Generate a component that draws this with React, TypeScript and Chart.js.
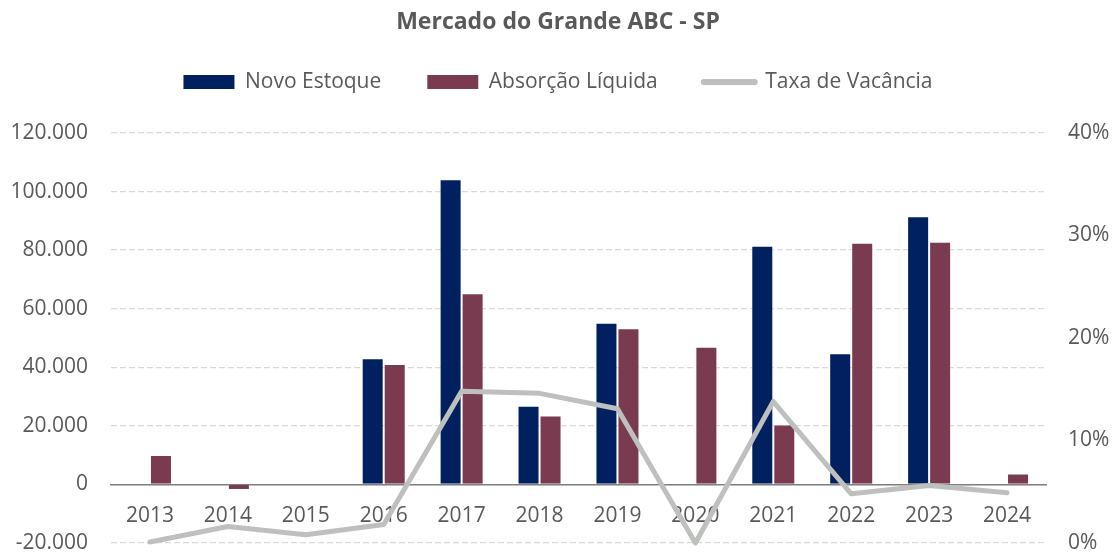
import React, { useEffect, useRef } from "react";
import { Chart, registerables } from "chart.js";

Chart.register(...registerables);

const years = ["2013", "2014", "2015", "2016", "2017", "2018", "2019", "2020", "2021", "2022", "2023", "2024"];
const novoEstoque = [null, null, null, 43100, 104200, 26900, 55200, null, 81500, 44800, 91600, null];
const absorcaoLiquida = [10000, -1900, null, 41100, 65300, 23500, 53300, 47000, 20500, 82500, 82900, 3700];
const taxaVacancia = [0.1, 1.6, 0.8, 1.8, 14.8, 14.6, 13.1, 0.0, 13.8, 4.8, 5.6, 4.9];

const TITLE = "Mercado do Grande ABC - SP";
const NAVY = "#012060";
const MAROON = "#7A3A50";
const GRAY_LINE = "#BEC0BE";
const TEXT = "#595959";
const FONT = "'Open Sans', sans-serif";

const fmtThousands = (v: number) => {
  const s = Math.abs(Math.round(v)).toString().replace(/\B(?=(\d{3})+(?!\d))/g, ".");
  return (v < 0 ? "-" : "") + s;
};

export default function App() {
  const ref = useRef<HTMLCanvasElement | null>(null);

  useEffect(() => {
    document.body.style.margin = "0";
    const canvas = ref.current;
    if (!canvas) return;
    const chart = new Chart(canvas, {
      type: "bar",
      data: {
        labels: years,
        datasets: [
          {
            type: "bar",
            label: "Novo Estoque",
            data: novoEstoque,
            backgroundColor: NAVY,
            borderColor: "rgba(255,255,255,0.3)",
            borderWidth: 1,
            yAxisID: "y",
            order: 1,
            barPercentage: 1,
            categoryPercentage: 0.565,
          },
          {
            type: "bar",
            label: "Absorção Líquida",
            data: absorcaoLiquida,
            backgroundColor: MAROON,
            borderColor: "rgba(255,255,255,0.3)",
            borderWidth: 1,
            yAxisID: "y",
            order: 1,
            barPercentage: 1,
            categoryPercentage: 0.565,
          },
          {
            type: "line",
            label: "Taxa de Vacância",
            data: taxaVacancia,
            borderColor: GRAY_LINE,
            backgroundColor: GRAY_LINE,
            borderWidth: 5,
            pointRadius: 0,
            tension: 0,
            borderCapStyle: "round",
            borderJoinStyle: "round",
            yAxisID: "y1",
            order: 0,
            clip: false,
          } as any,
        ],
      },
      options: {
        responsive: false,
        animation: false,
        devicePixelRatio: 1,
        layout: { padding: { left: 0, right: 0, top: 0, bottom: 0 } },
        plugins: {
          tooltip: { enabled: false },
          title: {
            display: true,
            text: TITLE,
            color: TEXT,
            font: { family: FONT, size: 23, weight: "bold", lineHeight: 1.2 },
            padding: { top: 8.2, bottom: -10.3 },
          },
          legend: {
            display: true,
            position: "top",
            labels: {
              color: TEXT,
              font: { family: FONT, size: 21 },
              usePointStyle: true,
              pointStyleWidth: 51,
              boxWidth: 51,
              boxHeight: 14,
              padding: 46,
              generateLabels: (c: any) => {
                const items = (Chart.defaults.plugins.legend.labels as any).generateLabels(c);
                items.forEach((it: any) => {
                  if (it.datasetIndex < 2) {
                    it.pointStyle = "rect";
                    it.lineWidth = 0;
                  } else {
                    it.pointStyle = "line";
                    it.lineWidth = 6;
                    it.strokeStyle = GRAY_LINE;
                    it.lineCap = "round";
                  }
                });
                return items.sort((a: any, b: any) => a.datasetIndex - b.datasetIndex);
              },
            },
          },
          subtitle: {
            display: true,
            text: "",
            position: "top",
            weight: 500,
            font: { size: 10, lineHeight: 1 },
            padding: { top: 20.5, bottom: 0 },
          } as any,
        },
        scales: {
          x: {
            type: "category",
            position: { y: 0 } as any,
            grid: { display: false, drawTicks: false },
            border: { display: true, color: "#7F7F7F", width: 1.6 },
            ticks: {
              color: TEXT,
              font: { family: FONT, size: 21, lineHeight: 1.2 },
              padding: 19,
              maxRotation: 0,
              autoSkip: false,
            },
          },
          y: {
            type: "linear",
            position: "left",
            min: -20000,
            max: 120000,
            afterFit: (s: any) => {
              s.width = 111;
            },
            grid: {
              color: "#D9D9D9",
              lineWidth: 1.3,
              drawTicks: true,
              tickLength: 23,
              tickColor: "rgba(0,0,0,0)",
            },
            border: { display: false, dash: [6, 3] },
            ticks: {
              stepSize: 20000,
              color: TEXT,
              padding: 0,
              font: { family: FONT, size: 21, lineHeight: 1.05 },
              callback: (v: any) => fmtThousands(Number(v)),
            },
          },
          y1: {
            type: "linear",
            position: "right",
            min: 0,
            max: 40,
            afterFit: (s: any) => {
              s.width = 70;
            },
            grid: { display: false, drawTicks: true, tickLength: 22 },
            border: { display: false },
            ticks: {
              stepSize: 10,
              color: TEXT,
              padding: 0,
              font: { family: FONT, size: 21, lineHeight: 1.05 },
              callback: (v: any) => `${Math.round(Number(v))}%`,
            },
          },
        },
      },
    });
    return () => chart.destroy();
  }, []);

  return (
    <div style={{ width: 1116, height: 554 }}>
      <canvas ref={ref} width={1116} height={554} style={{ display: "block" }} />
    </div>
  );
}
